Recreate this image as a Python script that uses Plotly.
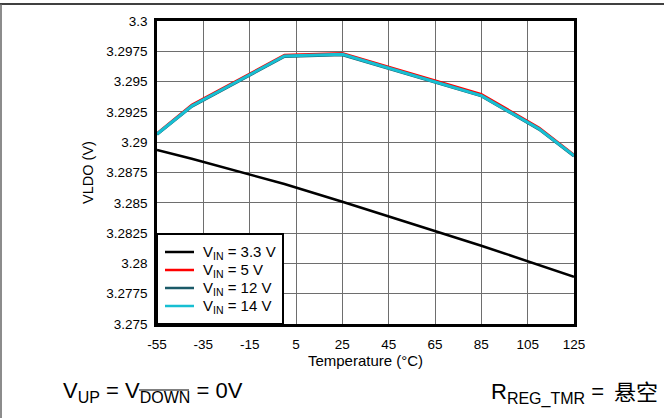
import plotly.graph_objects as go

# Temperature sweep points (°C)
temps = [-55, -40, 0, 25, 85, 110, 125]

# LDO output voltage (V) for each input voltage
vldo_3v3 = [3.28936, 3.28863, 3.28655, 3.28509, 3.28146, 3.27983, 3.27890]
vldo_5v = [3.29075, 3.29310, 3.29720, 3.29735, 3.29398, 3.29120, 3.28897]
vldo_12v = [3.29064, 3.29296, 3.29708, 3.29722, 3.29382, 3.29106, 3.28886]
vldo_14v = [3.29068, 3.29299, 3.29711, 3.29725, 3.29384, 3.29109, 3.28889]

series_names = ["V<sub>IN</sub> = 3.3 V", "V<sub>IN</sub> = 5 V",
                "V<sub>IN</sub> = 12 V", "V<sub>IN</sub> = 14 V"]
series_colors = ["#000000", "#ff0000", "#1b5a68", "#17bfd2"]
series_widths = [2.5, 2.2, 3, 3]

# Axis ticks
x_ticks = [-55, -35, -15, 5, 25, 45, 65, 85, 105, 125]
x_tick_text = ["-55", "-35", "-15", "5", "25", "45", "65", "85", "105", "125"]
y_ticks = [3.275, 3.2775, 3.28, 3.2825, 3.285, 3.2875, 3.29, 3.2925, 3.295, 3.2975, 3.3]
y_tick_text = ["3.275", "3.2775", "3.28", "3.2825", "3.285", "3.2875",
               "3.29", "3.2925", "3.295", "3.2975", "3.3"]

FONT = "Arial, Liberation Sans, sans-serif"
CJK = "Noto Sans CJK SC"
W, H = 664, 418
L, R, T, B = 157, 90, 21, 94
pw, ph = W - L - R, H - T - B


def px(x):
    return (x - L) / pw


def py(y):
    return (H - B - y) / ph


fig = go.Figure()
for ys, name, color, width in zip([vldo_3v3, vldo_5v, vldo_12v, vldo_14v],
                                  series_names, series_colors, series_widths):
    fig.add_trace(go.Scatter(x=temps, y=ys, mode="lines", name=name,
                             line=dict(color=color, width=width)))

axis_common = dict(showgrid=True, gridcolor="#6e6e6e", gridwidth=1,
                   showline=True, linecolor="#000000", linewidth=2.5, mirror=True,
                   zeroline=False, ticks="", tickfont=dict(family=FONT, size=13.5, color="#000"))

fig.update_xaxes(range=[-55, 125], tickvals=x_ticks, ticktext=x_tick_text,
                 ticklabelstandoff=6,
                 title=dict(text="Temperature (°C)", font=dict(family=FONT, size=15, color="#000"),
                            standoff=4),
                 **axis_common)
fig.update_yaxes(range=[3.275, 3.3], tickvals=y_ticks, ticktext=y_tick_text,
                 ticklabelstandoff=4,
                 title=dict(text="VLDO (V)", font=dict(family=FONT, size=14.5, color="#000"),
                            standoff=10),
                 **axis_common)

# Legend drawn as a boxed key in the lower-left corner of the plot
shapes = [
    dict(type="rect", xref="paper", yref="paper", x0=px(157), x1=px(283), y0=py(324), y1=py(234),
         fillcolor="white", line=dict(color="#000", width=2), layer="above"),
]
annotations = []
row_y = [252, 270, 288, 306]
for name, color, yrow in zip(series_names, series_colors, row_y):
    shapes.append(dict(type="line", xref="paper", yref="paper", x0=px(165), x1=px(194),
                       y0=py(yrow), y1=py(yrow), line=dict(color=color, width=2.5), layer="above"))
    annotations.append(dict(text=name, xref="paper", yref="paper", x=px(201), y=py(yrow),
                            xanchor="left", yanchor="middle", showarrow=False,
                            font=dict(family=FONT, size=15, color="#000")))

# Outer frame: top rule and left edge
shapes += [
    dict(type="line", xref="paper", yref="paper", x0=px(0), x1=px(W), y0=py(4), y1=py(4),
         line=dict(color="#000", width=1.5)),
    dict(type="line", xref="paper", yref="paper", x0=px(1), x1=px(1), y0=py(4), y1=py(H),
         line=dict(color="#666", width=1.5)),
    # overline on DOWN
    dict(type="line", xref="paper", yref="paper", x0=px(139), x1=px(189), y0=py(390), y1=py(390),
         line=dict(color="#555", width=1.5)),
]

annotations += [
    dict(text="V<sub><span style='font-size:16px'>UP</span></sub> = "
              "V<sub><span style='font-size:16px'>DOWN</span></sub> = 0V",
         xref="paper", yref="paper", x=px(61), y=py(392), xanchor="left", yanchor="middle",
         showarrow=False, font=dict(family=FONT, size=22, color="#000")),
    dict(text="R<sub><span style='font-size:16px'>REG_TMR</span></sub> =",
         xref="paper", yref="paper", x=px(489), y=py(393), xanchor="left", yanchor="middle",
         showarrow=False, font=dict(family=FONT, size=22, color="#000")),
    dict(text="悬空", xref="paper", yref="paper", x=px(612), y=py(390), xanchor="left",
         yanchor="middle", showarrow=False, font=dict(family=CJK, size=22, color="#000")),
]

fig.update_layout(
    width=W, height=H,
    margin=dict(l=L, r=R, t=T, b=B),
    paper_bgcolor="white", plot_bgcolor="white",
    font=dict(family=FONT, color="#000"),
    showlegend=False,
    shapes=shapes,
    annotations=annotations,
)

fig.write_html("out.html")
